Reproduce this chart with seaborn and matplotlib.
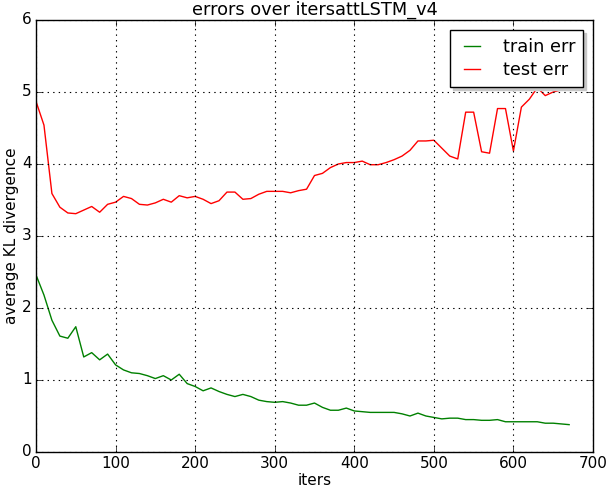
import matplotlib
matplotlib.use("Agg")
import matplotlib.pyplot as plt
import seaborn as sns
import pandas as pd

iters = [0, 10, 20, 30, 40, 50, 60, 70, 80, 90,
         100, 110, 120, 130, 140, 150, 160, 170, 180, 190,
         200, 210, 220, 230, 240, 250, 260, 270, 280, 290,
         300, 310, 320, 330, 340, 350, 360, 370, 380, 390,
         400, 410, 420, 430, 440, 450, 460, 470, 480, 490,
         500, 510, 520, 530, 540, 550, 560, 570, 580, 590,
         600, 610, 620, 630, 640, 650, 660, 670]

train_err = [2.46, 2.18, 1.83, 1.61, 1.58, 1.74, 1.32, 1.38, 1.28, 1.36,
             1.21, 1.14, 1.10, 1.09, 1.06, 1.02, 1.06, 1.00, 1.08, 0.95,
             0.91, 0.85, 0.89, 0.84, 0.80, 0.77, 0.80, 0.77, 0.72, 0.70,
             0.69, 0.70, 0.68, 0.65, 0.65, 0.68, 0.62, 0.58, 0.58, 0.61,
             0.57, 0.56, 0.55, 0.55, 0.55, 0.55, 0.53, 0.50, 0.54, 0.50,
             0.48, 0.46, 0.47, 0.47, 0.45, 0.45, 0.44, 0.44, 0.45, 0.42,
             0.42, 0.42, 0.42, 0.42, 0.40, 0.40, 0.39, 0.38]

test_err = [4.87, 4.54, 3.59, 3.40, 3.32, 3.31, 3.36, 3.41, 3.33, 3.44,
            3.47, 3.55, 3.52, 3.44, 3.43, 3.46, 3.51, 3.47, 3.56, 3.53,
            3.55, 3.51, 3.45, 3.49, 3.61, 3.61, 3.51, 3.52, 3.58, 3.62,
            3.62, 3.62, 3.60, 3.63, 3.65, 3.84, 3.87, 3.95, 4.00, 4.02,
            4.02, 4.04, 3.99, 3.99, 4.02, 4.06, 4.11, 4.19, 4.32, 4.32,
            4.33, 4.22, 4.11, 4.07, 4.72, 4.72, 4.17, 4.15, 4.77, 4.77,
            4.18, 4.79, 4.90, 5.06, 4.95, 5.00, 5.03, 5.06]

series_names = ["train err", "test err"]
title = "errors over itersattLSTM_v4"

plt.style.use("classic")
plt.rcParams["font.family"] = ["DejaVu Sans"]

df = pd.DataFrame({"iters": iters, "train": train_err, "test": test_err})

fig = plt.figure(figsize=(6.06, 4.88), dpi=100, facecolor="white")
ax = fig.add_axes([36 / 606, 1 - 452 / 488, (593 - 36) / 606, (452 - 20) / 488])

sns.lineplot(data=df, x="iters", y="train", ax=ax, color=(0, 0.5, 0),
             linewidth=1.0, label=series_names[0], estimator=None)
sns.lineplot(data=df, x="iters", y="test", ax=ax, color=(1, 0, 0),
             linewidth=1.0, label=series_names[1], estimator=None)

ax.set_xlim(0, 700)
ax.set_ylim(0, 6)
ax.set_xticks([0, 100, 200, 300, 400, 500, 600, 700])
ax.set_yticks([0, 1, 2, 3, 4, 5, 6])
ax.grid(True, linestyle=":", color="black", linewidth=0.8)
ax.tick_params(labelsize=11, direction="in", top=True, right=True, pad=3)
ax.set_title(title, fontsize=12.8, pad=4)
ax.set_xlabel("iters", fontsize=11, labelpad=1)
ax.set_ylabel("average KL divergence", fontsize=11, labelpad=2)

leg = ax.legend(loc="upper right", fontsize=12.8, frameon=True,
                borderaxespad=0.55, handlelength=1.5, handletextpad=1.0,
                borderpad=0.45, labelspacing=0.3, fancybox=False,
                shadow={"color": "0.78", "alpha": 1.0})
leg.get_frame().set_edgecolor("black")

fig.savefig("out.png", dpi=100, facecolor="white")
